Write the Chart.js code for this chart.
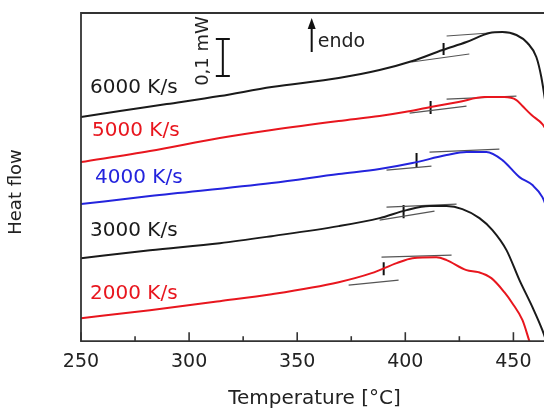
<!DOCTYPE html>
<html>
<head>
<meta charset="utf-8">
<script src="https://cdn.jsdelivr.net/npm/chart.js@4.4.1/dist/chart.umd.min.js"></script>
<style>
  html, body { margin: 0; padding: 0; background: #fff; overflow: hidden; }
  canvas { display: block; }
</style>
</head>
<body>
<canvas id="dsc" width="550" height="411"></canvas>
<script>
// temperatura (°C) e fluxo de calor (u.a.)
const temps6000 = [250, 268.0, 289.7, 314.2, 338.2, 369.2, 388.1, 403.3, 417.2, 428.3, 438.9, 444.9, 451.4, 456.5, 460.6, 462.9, 465.7]
const heat6000  = [224, 230, 237, 245, 254, 263, 271, 280, 291, 299, 308, 309, 306, 298, 284, 264, 226]
const temps5000 = [250, 281.9, 314.2, 338.2, 369.2, 388.1, 399.7, 411.7, 424.6, 436.6, 445.8, 451.4, 454.2, 458.4, 463.4, 466.6]
const heat5000  = [179, 190, 203, 211, 220, 225, 229, 234, 239, 244, 244, 241, 235, 226, 217, 206]
const temps4000 = [250, 281.9, 338.2, 369.2, 388.1, 403.3, 419.1, 428.3, 437.5, 444.9, 452.8, 458.8, 463.4, 466.6]
const heat4000  = [137, 145, 158, 167, 172, 178, 186, 189, 189, 181, 164, 156, 144, 126]
const temps3000 = [250, 281.9, 314.2, 338.2, 369.2, 388.1, 400.6, 411.2, 419.1, 426.4, 434.3, 440.3, 446.8, 452.8, 458.8, 463.4, 466.6]
const heat3000  = [83, 91, 98, 105, 115, 123, 131, 135, 135, 132, 123, 111, 91, 61, 34, 11, -9]
const temps2000 = [250, 281.9, 314.2, 338.2, 369.2, 384.4, 396.0, 403.3, 414.4, 419.1, 428.3, 433.8, 439.8, 445.8, 449.5, 454.2, 457.4]
const heat2000  = [23, 31, 40, 47, 59, 68, 78, 83, 84, 81, 71, 69, 63, 49, 38, 21, 0]

const rateLabels = ['6000 K/s', '5000 K/s', '4000 K/s', '3000 K/s', '2000 K/s']
const rateColors = ['#1a1a1a', '#e8161e', '#2424dd', '#1a1a1a', '#e8161e']
const labelPos = [[254.2, 253.5], [255.1, 210], [256.5, 163], [254.2, 110], [254.2, 47]]

// tangentes: [T1, h1, T2, h2]
const tangentSegments = [
  [402.9, 279, 429.6, 287], [419.1, 305, 438.9, 308],
  [402.0, 228, 428.3, 235], [419.1, 242, 451.4, 245],
  [391.3, 171, 412.1, 175], [411.2, 189, 443.5, 192],
  [388.1, 121, 413.5, 130], [391.3, 134, 423.7, 137],
  [373.8, 56, 396.9, 61], [389.0, 84, 421.4, 86]
]
// marcas de Tg: [T, h inicio, h fim]
const onsetMarks = [[417.7, 286, 298], [411.7, 227, 240], [405.2, 174, 188], [399.2, 123, 136], [390.0, 66, 79]]

const xTicks = [250, 275, 300, 325, 350, 375, 400, 425, 450]
const scaleBar = { t: 315.6, from: 265, to: 302, text: '0,1 mW', textT: 306.8, textH: 290 }
const endoArrow = { t: 356.7, from: 289, to: 323, text: 'endo', textT: 359.5, textH: 299 }

Chart.defaults.font.family = "'DejaVu Sans', sans-serif"
Chart.defaults.color = '#222'

const toPts = (ts, hs) => ts.map((t, i) => ({ x: t, y: hs[i] }))
const curvas = [
  [temps6000, heat6000], [temps5000, heat5000], [temps4000, heat4000], [temps3000, heat3000], [temps2000, heat2000]
]

const dataSets = []
curvas.forEach(([ts, hs], i) => {
  dataSets.push({
    label: rateLabels[i],
    data: toPts(ts, hs),
    borderColor: rateColors[i],
    borderWidth: 2,
    pointRadius: 0,
    cubicInterpolationMode: 'monotone',
    fill: false
  })
})
tangentSegments.forEach(s => {
  dataSets.push({
    data: [{ x: s[0], y: s[1] }, { x: s[2], y: s[3] }],
    borderColor: '#555',
    borderWidth: 1.2,
    pointRadius: 0,
    fill: false
  })
})
onsetMarks.forEach(m => {
  dataSets.push({
    data: [{ x: m[0], y: m[1] }, { x: m[0], y: m[2] }],
    borderColor: '#111',
    borderWidth: 2,
    pointRadius: 0,
    fill: false
  })
})

const extras = {
  id: 'extras',
  afterDraw(chart) {
    const { ctx, chartArea: a } = chart
    const xs = chart.scales.x, ys = chart.scales.y
    ctx.save()
    // moldura
    ctx.strokeStyle = '#333'
    ctx.lineWidth = 1.8
    ctx.beginPath()
    ctx.moveTo(a.right + 10, a.top)
    ctx.lineTo(a.left, a.top)
    ctx.lineTo(a.left, a.bottom)
    ctx.lineTo(a.right + 10, a.bottom)
    ctx.stroke()
    // ticks para dentro
    ctx.lineWidth = 1.6
    xTicks.forEach(v => {
      const px = xs.getPixelForValue(v)
      const len = v % 50 === 0 ? 9 : 5
      ctx.beginPath()
      ctx.moveTo(px, a.bottom)
      ctx.lineTo(px, a.bottom - len)
      ctx.stroke()
    })
    // rotulos das taxas
    ctx.font = "20px 'DejaVu Sans'"
    ctx.textBaseline = 'middle'
    ctx.textAlign = 'left'
    rateLabels.forEach((t, i) => {
      ctx.fillStyle = rateColors[i]
      ctx.fillText(t, xs.getPixelForValue(labelPos[i][0]), ys.getPixelForValue(labelPos[i][1]))
    })
    // barra de escala
    ctx.strokeStyle = '#111'
    ctx.lineWidth = 2
    const bx = xs.getPixelForValue(scaleBar.t)
    const b1 = ys.getPixelForValue(scaleBar.from), b2 = ys.getPixelForValue(scaleBar.to)
    ctx.beginPath()
    ctx.moveTo(bx, b1); ctx.lineTo(bx, b2)
    ctx.moveTo(bx - 7, b1); ctx.lineTo(bx + 7, b1)
    ctx.moveTo(bx - 7, b2); ctx.lineTo(bx + 7, b2)
    ctx.stroke()
    ctx.save()
    ctx.translate(xs.getPixelForValue(scaleBar.textT), ys.getPixelForValue(scaleBar.textH))
    ctx.rotate(-Math.PI / 2)
    ctx.font = "18px 'DejaVu Sans'"
    ctx.fillStyle = '#222'
    ctx.textAlign = 'center'
    ctx.fillText(scaleBar.text, 0, 0)
    ctx.restore()
    // seta endo
    const ax = xs.getPixelForValue(endoArrow.t)
    const a1 = ys.getPixelForValue(endoArrow.from), a2 = ys.getPixelForValue(endoArrow.to)
    ctx.beginPath()
    ctx.moveTo(ax, a1); ctx.lineTo(ax, a2 + 8)
    ctx.stroke()
    ctx.fillStyle = '#111'
    ctx.beginPath()
    ctx.moveTo(ax, a2); ctx.lineTo(ax - 4, a2 + 11); ctx.lineTo(ax + 4, a2 + 11)
    ctx.closePath()
    ctx.fill()
    ctx.font = "19px 'DejaVu Sans'"
    ctx.fillStyle = '#222'
    ctx.fillText(endoArrow.text, xs.getPixelForValue(endoArrow.textT), ys.getPixelForValue(endoArrow.textH))
    // titulo do eixo y
    ctx.save()
    ctx.translate(16, 192)
    ctx.rotate(-Math.PI / 2)
    ctx.font = "18px 'DejaVu Sans'"
    ctx.textAlign = 'center'
    ctx.fillText('Heat flow', 0, 0)
    ctx.restore()
    ctx.restore()
  }
}

const chart = new Chart(document.getElementById('dsc'), {
  type: 'line',
  data: { datasets: dataSets },
  options: {
    responsive: false,
    animation: false,
    devicePixelRatio: 1,
    layout: { padding: { left: 81, top: 13, right: 2, bottom: 0 } },
    plugins: { legend: { display: false }, tooltip: { enabled: false } },
    scales: {
      x: {
        type: 'linear',
        min: 250,
        max: 466,
        grid: { display: false, drawTicks: false },
        border: { display: false },
        afterBuildTicks: s => { s.ticks = xTicks.map(v => ({ value: v })) },
        ticks: {
          font: { size: 19 },
          color: '#222',
          padding: 9,
          maxRotation: 0,
          autoSkip: false,
          callback: v => (v % 50 === 0 ? v : '')
        },
        title: {
          display: true,
          text: 'Temperature [°C]',
          font: { size: 20 },
          color: '#222',
          padding: { top: 5, bottom: 0 }
        }
      },
      y: { display: false, min: 0, max: 328 }
    }
  },
  plugins: [extras]
})
</script>
</body>
</html>
